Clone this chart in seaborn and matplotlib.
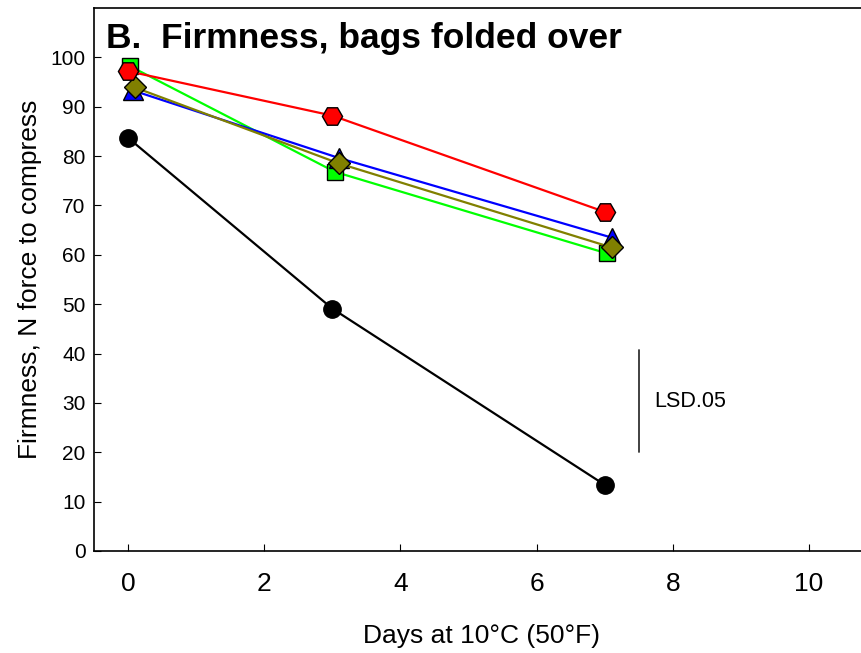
import numpy as np
import pandas as pd
import matplotlib
matplotlib.use("Agg")
import matplotlib.pyplot as plt
import seaborn as sns

# values (days at 10 C, firmness in N)
days_green = [0.03, 3.04, 7.03]
firm_green = [98.2, 76.8, 60.3]
days_blue = [0.07, 3.1, 7.1]
firm_blue = [93.3, 79.6, 63.5]
days_olive = [0.1, 3.1, 7.1]
firm_olive = [93.9, 78.5, 61.5]
days_red = [0.0, 3.0, 7.0]
firm_red = [97.2, 88.2, 68.7]
days_black = [0.0, 3.0, 7.0]
firm_black = [83.7, 49.1, 13.4]

lsd_x = 7.5
lsd_low = 20.0
lsd_high = 40.7

sns.set_style("ticks")
plt.rcParams['font.family'] = ['Liberation Sans', 'DejaVu Sans']
plt.rcParams['text.color'] = 'black'
plt.rcParams['axes.labelcolor'] = 'black'
plt.rcParams['xtick.color'] = 'black'
plt.rcParams['ytick.color'] = 'black'
plt.rcParams['axes.edgecolor'] = 'black'

fig = plt.figure(figsize=(8.61, 6.53), dpi=100)
# axes runs a little past the right edge, like the cropped original
ax = fig.add_axes([94 / 861, 102 / 653, 774 / 861, 543 / 653])

series = [
    ("green", days_green, firm_green, "#00ff00", "s", 12),
    ("blue", days_blue, firm_blue, "#0000ff", "^", 14),
    ("olive", days_olive, firm_olive, "#808000", "D", 11.5),
    ("red", days_red, firm_red, "#ff0000", "H", 14.5),
    ("black", days_black, firm_black, "#000000", "o", 12.5),
]

for i, (name, xs, ys, col, mk, ms) in enumerate(series):
    df = pd.DataFrame({"days": xs, "firmness": ys})
    sns.lineplot(data=df, x="days", y="firmness", ax=ax, color=col,
                 marker=mk, markersize=ms, markeredgecolor="black",
                 markeredgewidth=1.0, markerfacecolor=col, linewidth=1.6,
                 zorder=3 + i, legend=False)

# LSD bar
ax.plot([lsd_x, lsd_x], [lsd_low, lsd_high], color="#333333", linewidth=1.3)
ax.text(lsd_x + 0.23, (lsd_low + lsd_high) / 2, "LSD.05", fontsize=15.5,
        va="center", ha="left")

ax.set_xlim(-0.5, (868 - 128) / 68.1)
ax.set_ylim(0, 110)
ax.set_xticks([0, 2, 4, 6, 8, 10])
ax.set_yticks(np.arange(0, 101, 10))
ax.tick_params(axis="x", direction="in", length=5, labelsize=19, pad=15)
ax.tick_params(axis="y", direction="in", length=5, labelsize=15, pad=6)
ax.spines["right"].set_visible(False)
for s in ["left", "top", "bottom"]:
    ax.spines[s].set_linewidth(1.2)

ax.set_xlabel("Days at 10°C (50°F)", fontsize=19, labelpad=20)
ax.set_ylabel("Firmness, N force to compress", fontsize=19, labelpad=6)

ax.text(0.015, 0.975, "B.  Firmness, bags folded over", transform=ax.transAxes,
        fontsize=25.5, fontweight="bold", va="top", ha="left")

fig.savefig("out.png", dpi=100)
